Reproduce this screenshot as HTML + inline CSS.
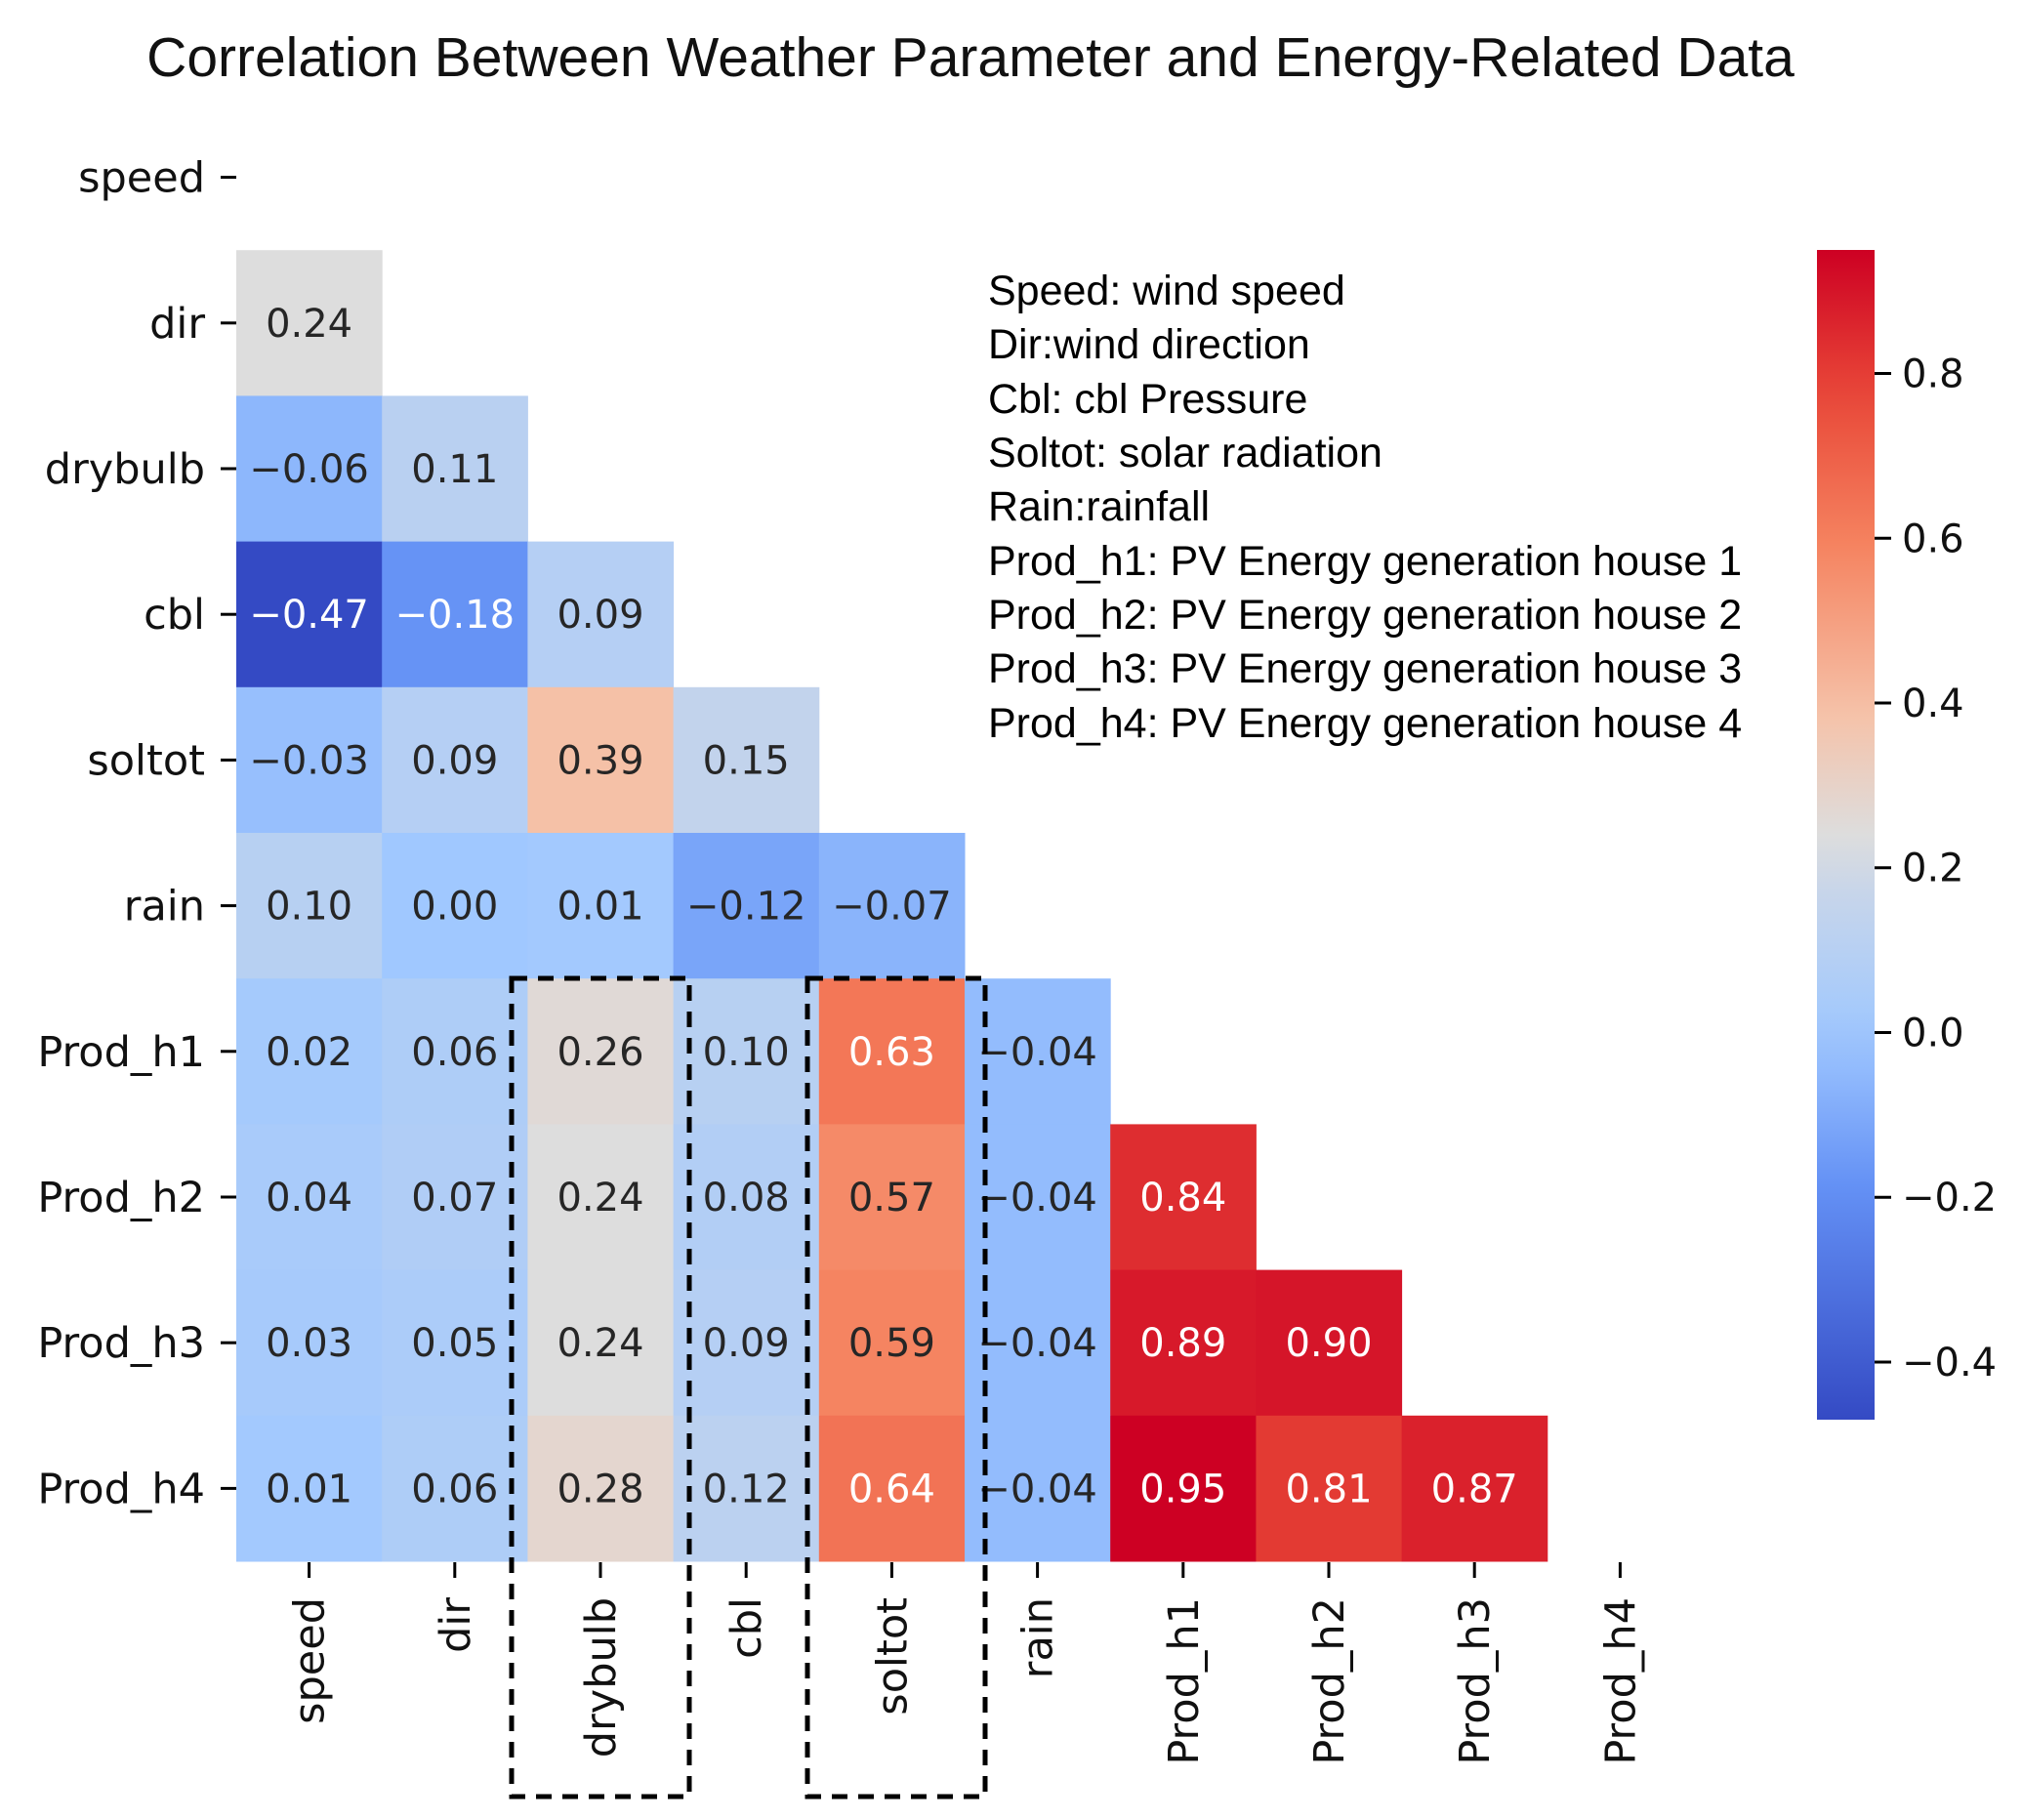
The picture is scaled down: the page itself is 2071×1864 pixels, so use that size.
<!DOCTYPE html>
<html><head><meta charset="utf-8"><style>
html,body{margin:0;padding:0;background:#fff;}
svg{display:block;}
</style></head><body>
<svg id="chart" width="2071" height="1864" viewBox="0 0 2071 1864" xmlns="http://www.w3.org/2000/svg">
<text x="994" y="78" text-anchor="middle" font-family="Liberation Sans, sans-serif" font-size="57" fill="#111">Correlation Between Weather Parameter and Energy-Related Data</text>
<g id="cells"></g>
<g id="yaxis"></g>
<g id="xaxis"></g>
<g font-family="Liberation Sans, sans-serif" font-size="43" fill="#000">
<text x="1012" y="312">Speed: wind speed</text>
<text x="1012" y="367">Dir:wind direction</text>
<text x="1012" y="423">Cbl: cbl Pressure</text>
<text x="1012" y="478">Soltot: solar radiation</text>
<text x="1012" y="533">Rain:rainfall</text>
<text x="1012" y="589">Prod_h1: PV Energy generation house 1</text>
<text x="1012" y="644">Prod_h2: PV Energy generation house 2</text>
<text x="1012" y="699">Prod_h3: PV Energy generation house 3</text>
<text x="1012" y="755">Prod_h4: PV Energy generation house 4</text>
</g>
<defs><linearGradient id="cbgrad" x1="0" y1="1" x2="0" y2="0"></linearGradient></defs>
<rect x="1861" y="256" width="59" height="1198" fill="url(#cbgrad)"/>
<g id="cbticks"></g>
<rect x="524" y="1002" width="182" height="838" fill="none" stroke="#000" stroke-width="5" stroke-dasharray="16,11"/>
<rect x="827" y="1002" width="182" height="838" fill="none" stroke="#000" stroke-width="5" stroke-dasharray="16,11"/>
</svg>
<script>
const labels = ["speed","dir","drybulb","cbl","soltot","rain","Prod_h1","Prod_h2","Prod_h3","Prod_h4"];
const rowDir = [0.24];
const rowDrybulb = [-0.06, 0.11];
const rowCbl = [-0.47, -0.18, 0.09];
const rowSoltot = [-0.03, 0.09, 0.39, 0.15];
const rowRain = [0.10, 0.00, 0.01, -0.12, -0.07];
const rowH1 = [0.02, 0.06, 0.26, 0.10, 0.63, -0.04];
const rowH2 = [0.04, 0.07, 0.24, 0.08, 0.57, -0.04, 0.84];
const rowH3 = [0.03, 0.05, 0.24, 0.09, 0.59, -0.04, 0.89, 0.90];
const rowH4 = [0.01, 0.06, 0.28, 0.12, 0.64, -0.04, 0.95, 0.81, 0.87];
const cbTicks = [0.8, 0.6, 0.4, 0.2, 0.0, -0.2, -0.4];
const vmin = -0.47, vmax = 0.95;

const rows = [[], rowDir, rowDrybulb, rowCbl, rowSoltot, rowRain, rowH1, rowH2, rowH3, rowH4];
const NS = "http://www.w3.org/2000/svg";
const X0 = 242, Y0 = 107, CW = 149.2;
const CB_TOP = 256, CB_BOT = 1454;
function xPos(j){ return X0 + j*CW; }
function yPos(i){ return Y0 + i*CW; }
function cbY(v){ return CB_BOT - (v - vmin)/(vmax - vmin)*(CB_BOT - CB_TOP); }
const stops = [[0,[52,74,196]],[0.2,[100,145,245]],[0.33,[160,200,255]],[0.47,[205,215,230]],[0.5,[221,221,221]],[0.6,[245,195,170]],[0.75,[245,130,95]],[0.88,[232,70,55]],[1,[205,0,35]]];
function color(v){
  let t = Math.max(0, Math.min(1, (v - vmin)/(vmax - vmin)));
  for (let k=1;k<stops.length;k++){
    if (t <= stops[k][0]){
      const a=stops[k-1], b=stops[k], f=(t-a[0])/(b[0]-a[0]);
      const c=a[1].map((x,q)=>Math.round(x+(b[1][q]-x)*f));
      return `rgb(${c[0]},${c[1]},${c[2]})`;
    }
  }
  return "rgb(205,0,35)";
}
function mk(tag, attrs, parent){
  const e=document.createElementNS(NS,tag);
  for (const k in attrs) e.setAttribute(k, attrs[k]);
  parent.appendChild(e); return e;
}
const cells=document.getElementById('cells');
rows.forEach((row,i)=>{
  row.forEach((v,j)=>{
    const r=mk('rect',{x:xPos(j),y:yPos(i),width:CW+0.5,height:CW+0.5,fill:color(v)},cells);
    
    
    const t=mk('text',{x:xPos(j)+CW/2,y:yPos(i)+CW/2+14,'text-anchor':'middle','font-family':'DejaVu Sans, sans-serif','font-size':40,fill:(v<-0.15||v>0.6)?'#fff':'#262626'},cells);
    t.textContent=(v<0?'\u2212':'')+Math.abs(v).toFixed(2);
    
    
  });
});
const ya=document.getElementById('yaxis'), xa=document.getElementById('xaxis');
labels.forEach((l,i)=>{
  const cy=yPos(i)+CW/2;
  mk('line',{x1:226,x2:242,y1:cy,y2:cy,stroke:'#000','stroke-width':3},ya);
  const t=mk('text',{x:210,y:cy+15,'text-anchor':'end','font-family':'DejaVu Sans, sans-serif','font-size':43,fill:'#111'},ya);
  t.textContent=l;
  
  
  const cx=xPos(i)+CW/2;
  mk('line',{x1:cx,x2:cx,y1:1600,y2:1616,stroke:'#000','stroke-width':3},xa);
  const u=mk('text',{x:0,y:0,transform:`translate(${cx+15},1636) rotate(-90)`,'text-anchor':'end','font-family':'DejaVu Sans, sans-serif','font-size':43,fill:'#111'},xa);
  u.textContent=l;
  
  
});
const grad=document.getElementById('cbgrad');
for (let k=0;k<=20;k++){
  const v=vmin+(vmax-vmin)*k/20;
  mk('stop',{offset:(k/20),'stop-color':color(v)},grad);
}
const cbt=document.getElementById('cbticks');
cbTicks.forEach(v=>{
  const y=cbY(v);
  mk('line',{x1:1920,x2:1937,y1:y,y2:y,stroke:'#000','stroke-width':3},cbt);
  const t=mk('text',{x:1948,y:y+14,'font-family':'DejaVu Sans, sans-serif','font-size':40,fill:'#111'},cbt);
  t.textContent=(v<0?'\u2212':'')+Math.abs(v).toFixed(1);
  
  
});
</script>
</body></html>
